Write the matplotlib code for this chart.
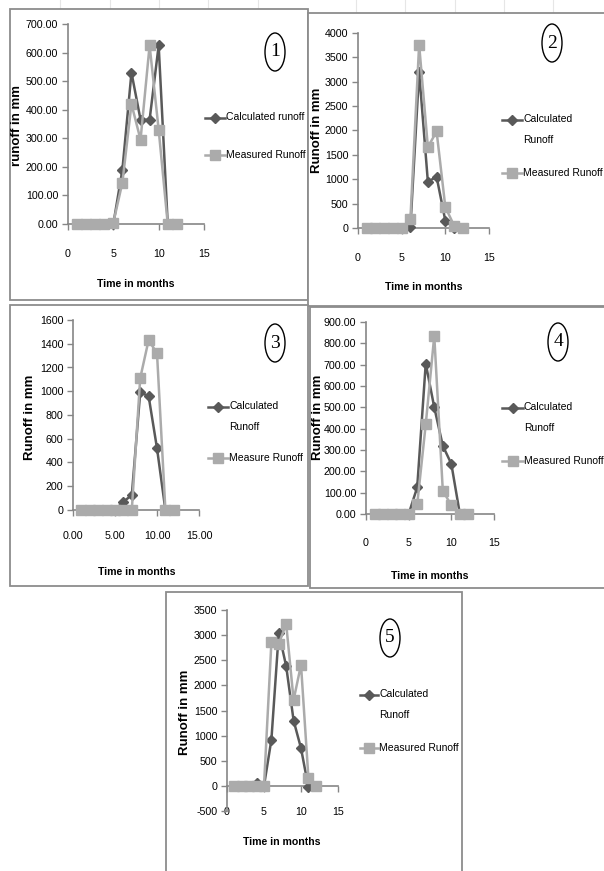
import matplotlib
matplotlib.use("Agg")
import matplotlib.pyplot as plt
from matplotlib.patches import Rectangle, Ellipse
from matplotlib.lines import Line2D
from matplotlib.ticker import FormatStrFormatter

W, H = 604, 871
SANS = ['Liberation Sans', 'DejaVu Sans']

months = [1, 2, 3, 4, 5, 6, 7, 8, 9, 10, 11, 12]

p1_calc = [0, 0, 0, 0, 0, 190, 530, 365, 365, 625, 0, 0]
p1_meas = [0, 0, 0, 0, 5, 145, 420, 295, 625, 330, 0, 0]

p2_calc = [0, 0, 0, 0, 0, 20, 3200, 950, 1050, 150, 0, 0]
p2_meas = [0, 0, 0, 0, 0, 180, 3760, 1660, 1980, 430, 50, 0]

p3_calc = [0, 0, 0, 0, 0, 70, 125, 990, 960, 520, 0, 0]
p3_meas = [0, 0, 0, 0, 0, 0, 0, 1110, 1430, 1320, 0, 0]

p4_calc = [0, 0, 0, 0, 0, 125, 705, 500, 320, 235, 0, 0]
p4_meas = [0, 0, 0, 0, 0, 45, 420, 835, 110, 40, 0, 0]

p5_calc = [0, 0, 0, 60, 0, 920, 3050, 2380, 1300, 750, -30, 0]
p5_meas = [0, 0, 0, 0, 0, 2860, 2830, 3220, 1710, 2410, 165, 0]

panels = [
    dict(num="1", calc=p1_calc, meas=p1_meas, box=(10, 9, 308, 300),
         ax=(68, 24, 204, 224), ylim=(0, 700), ystep=100, yfmt='%.2f', xfmt='%d', xpad=19,
         ylabel="runoff in mm", ylab=(17, 125), xlab=(136, 284),
         leg=[("Calculated runoff", 118), ("Measured Runoff", 155)], legx=(205, 225),
         circ=(275, 52)),
    dict(num="2", calc=p2_calc, meas=p2_meas, box=(308, 13, 612, 306),
         ax=(358, 33, 489, 228), ylim=(0, 4000), ystep=500, yfmt='%d', xfmt='%d', xpad=19,
         ylabel="Runoff in mm", ylab=(317, 130), xlab=(424, 287),
         leg=[("Calculated\nRunoff", 120), ("Measured Runoff", 173)], legx=(502, 522),
         circ=(552, 43)),
    dict(num="3", calc=p3_calc, meas=p3_meas, box=(10, 305, 308, 586),
         ax=(73, 320, 199, 510), ylim=(0, 1600), ystep=200, yfmt='%d', xfmt='%.2f', xpad=15,
         ylabel="Runoff in mm", ylab=(30, 417), xlab=(137, 572),
         leg=[("Calculated\nRunoff", 407), ("Measure Runoff", 458)], legx=(208, 228),
         circ=(275, 343)),
    dict(num="4", calc=p4_calc, meas=p4_meas, box=(310, 307, 612, 588),
         ax=(366, 322, 494, 514), ylim=(0, 900), ystep=100, yfmt='%.2f', xfmt='%d', xpad=18,
         ylabel="Runoff in mm", ylab=(318, 417), xlab=(430, 576),
         leg=[("Calculated\nRunoff", 408), ("Measured Runoff", 461)], legx=(502, 523),
         circ=(558, 342)),
    dict(num="5", calc=p5_calc, meas=p5_meas, box=(166, 592, 462, 875),
         ax=(227, 610, 338, 811), ylim=(-500, 3500), ystep=500, yfmt='%d', xfmt='%d', xpad=16,
         ylabel="Runoff in mm", ylab=(185, 712), xlab=(282, 842),
         leg=[("Calculated\nRunoff", 695), ("Measured Runoff", 748)], legx=(360, 378),
         circ=(390, 638)),
]

CALC_C = '#595959'
MEAS_C = '#ababab'
BORDER_C = '#8c8c8c'
AXIS_C = '#868686'

TICK_FS = 7.7
LEG_FS = 7.5
XLAB_FS = 7.6
YLAB_FS = 9.5

fig = plt.figure(figsize=(W / 100, H / 100), dpi=100)
fig.patch.set_facecolor('white')

def fx(x):
    return x / W

def fy(y):
    return 1 - y / H

PX2PT = 0.72

# faint spreadsheet grid at the very top
for gx in [60, 110, 159, 208, 258, 356, 405, 455, 504, 553]:
    fig.add_artist(Line2D([fx(gx), fx(gx)], [fy(0), fy(12)], color='#e6e6e6', lw=0.8,
                          transform=fig.transFigure, zorder=0))

for p in panels:
    x0, y0, x1, y1 = p['box']
    fig.add_artist(Rectangle((fx(x0), fy(y1)), fx(x1) - fx(x0), fy(y0) - fy(y1),
                             transform=fig.transFigure, facecolor='white',
                             edgecolor=BORDER_C, lw=1.3, zorder=1))
    ax0, ay0, ax1, ay1 = p['ax']
    ax = fig.add_axes([fx(ax0), fy(ay1), fx(ax1) - fx(ax0), fy(ay0) - fy(ay1)])
    ax.set_zorder(2)
    ax.patch.set_alpha(0)
    ax.plot(months, p['calc'], color=CALC_C, lw=1.8, marker='D', markersize=5.5,
            markerfacecolor=CALC_C, markeredgecolor=CALC_C, clip_on=False, zorder=3)
    ax.plot(months, p['meas'], color=MEAS_C, lw=1.8, marker='s', markersize=7,
            markerfacecolor=MEAS_C, markeredgecolor=MEAS_C, clip_on=False, zorder=4)
    ax.set_xlim(0, 15)
    ax.set_ylim(*p['ylim'])
    ylo, yhi = p['ylim']
    ax.set_yticks(list(range(ylo, yhi + 1, p['ystep'])))
    ax.set_xticks([0, 5, 10, 15])
    ax.yaxis.set_major_formatter(FormatStrFormatter(p['yfmt']))
    ax.xaxis.set_major_formatter(FormatStrFormatter(p['xfmt']))
    for s in ['top', 'right']:
        ax.spines[s].set_visible(False)
    for s in ['left', 'bottom']:
        ax.spines[s].set_color(AXIS_C)
        ax.spines[s].set_linewidth(1.2)
    ax.tick_params(axis='both', colors=AXIS_C, length=4, width=1, direction='out',
                   labelcolor='black', labelsize=TICK_FS)
    if ylo < 0:
        ax.spines['bottom'].set_position(('data', 0))
    ax.tick_params(axis='x', pad=p['xpad'] * PX2PT)
    ax.tick_params(axis='y', pad=3)
    for lab in ax.get_xticklabels() + ax.get_yticklabels():
        lab.set_family(SANS)

    fig.text(fx(p['ylab'][0]), fy(p['ylab'][1]), p['ylabel'], rotation=90,
             ha='center', va='center', fontsize=YLAB_FS, fontweight='bold', family=SANS)
    fig.text(fx(p['xlab'][0]), fy(p['xlab'][1]), "Time in months", ha='center',
             va='center', fontsize=XLAB_FS, fontweight='bold', family=SANS)

    # legend
    lx0, lx1 = p['legx']
    (t1, yl1), (t2, yl2) = p['leg']
    fig.add_artist(Line2D([fx(lx0), fx(lx1)], [fy(yl1), fy(yl1)], color=CALC_C, lw=1.8,
                          transform=fig.transFigure, zorder=3))
    fig.add_artist(Line2D([fx((lx0 + lx1) / 2)], [fy(yl1)], color=CALC_C, marker='D',
                          markersize=5.5, transform=fig.transFigure, zorder=3))
    fig.add_artist(Line2D([fx(lx0), fx(lx1)], [fy(yl2), fy(yl2)], color=MEAS_C, lw=1.8,
                          transform=fig.transFigure, zorder=3))
    fig.add_artist(Line2D([fx((lx0 + lx1) / 2)], [fy(yl2)], color=MEAS_C, marker='s',
                          markersize=7, transform=fig.transFigure, zorder=3))
    fig.text(fx(lx1 + 1), fy(yl1 - 6), t1, ha='left', va='top', fontsize=LEG_FS,
             family=SANS, linespacing=2.35, zorder=3)
    fig.text(fx(lx1 + 1), fy(yl2), t2, ha='left', va='center', fontsize=LEG_FS,
             family=SANS, zorder=3)

    # numbered circle
    cx, cy = p['circ']
    fig.add_artist(Ellipse((fx(cx), fy(cy)), fx(20), 38 / H, transform=fig.transFigure,
                           facecolor='white', edgecolor='black', lw=1.0, zorder=3))
    fig.text(fx(cx), fy(cy), p['num'], ha='center', va='center', fontsize=14,
             family=['Liberation Serif', 'DejaVu Serif'], zorder=4)

fig.savefig('out.png', dpi=100)
